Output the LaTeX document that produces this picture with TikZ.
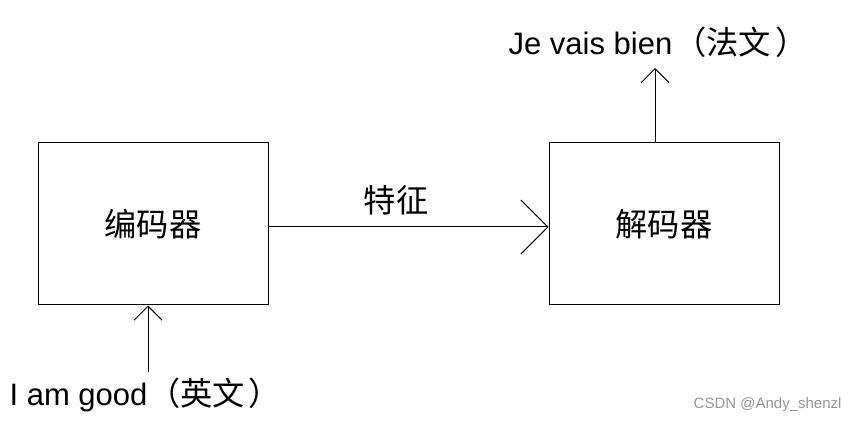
\documentclass[tikz,border=0pt]{standalone}
\usepackage{fontspec}
\setmainfont{Liberation Sans}
\newfontfamily\cjk{Noto Sans CJK SC}[Scale=1.04]
\usetikzlibrary{positioning, arrows.meta}
\tikzset{every picture/.style={line width=1pt}}
\definecolor{mark-gray}{RGB}{150,150,150}

\begin{document}
\begin{tikzpicture}
    [x=1pt, y=-1pt,
    box/.style = {rectangle, draw, align=center, inner sep=0pt,
            minimum width=230pt, minimum height=162pt},
    txt/.style = {font=\fontsize{31}{36}\selectfont, inner sep=0pt},
    big/.style = {-{Straight Barb[length=27pt, width=54pt]}},
    small/.style = {-{Straight Barb[length=14pt, width=28pt]}},
    ]
    \useasboundingbox (0,0) rectangle (855,422);
    
	\node[box, txt] (enc) at (153,224) {\cjk 编码器};
	\node[box, txt, right=280pt of enc] (dec) {\cjk 解码器};
	
	\node[txt] (feat) at (396,200) {\cjk 特征};
	
	\coordinate (out) at (655,68);
	\coordinate (in) at (148,372);
	
	\node[txt, anchor=base] (fr) at (658,55) {Je vais bien\hspace{2pt}{\cjk （法文\hspace{4pt}）}};
	\node[txt, anchor=base] (en) at (145,405) {I am good\hspace{1pt}{\cjk （英文\hspace{3pt}）}};
	
	\node[anchor=base east, inner sep=0pt, text=mark-gray,
	      font=\fontsize{15}{18}\selectfont] (mark) at (842,408) {CSDN @Andy\_shenzl};
	
	\draw[big] ([yshift=-3pt]enc.east) to ([yshift=-3pt]dec.west);
	\draw[small] (dec.north -| out) to (out);
	\draw[small] (in) to (in |- enc.south);
\end{tikzpicture}
\end{document}
